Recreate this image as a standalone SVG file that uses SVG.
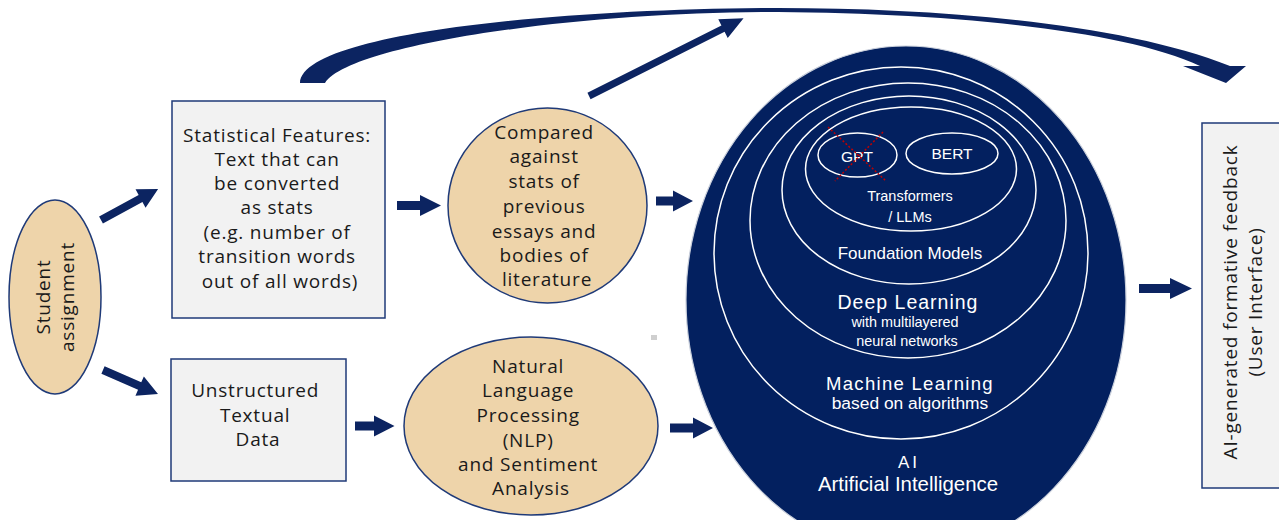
<svg xmlns="http://www.w3.org/2000/svg" width="1279" height="520" viewBox="0 0 1279 520">
<style>
.box{fill:#f2f2f2;stroke:#1f3a78;stroke-width:1.5}
.tan{fill:#eed4aa;stroke:#1f3a78;stroke-width:1.5}
.t{font-family:"Open Sans","Noto Sans",sans-serif;font-size:19px;fill:#1a1a1a;letter-spacing:0.8px;text-anchor:middle}
.w{font-family:"Liberation Sans",Arial,sans-serif;fill:#ffffff;text-anchor:middle}
.ring{fill:none;stroke:#ffffff;stroke-width:1.5}
.arr{fill:#0c2461}
.x{stroke:#c00000;stroke-width:1.5;stroke-dasharray:2 2}
</style>
<rect width="1279" height="520" fill="#ffffff"/>

<g id="connectors">
  <path class="arr" d="M300,83 C302,35 540,10 762,8 C930,7 1120,22 1230,66 L1246,66 L1226,83 L1183,66 L1200,66 C1120,28 930,12 762,12 C570,13 350,45 325,83 Z"/>
  <polygon class="arr" points="0,-3.5 150,-3.5 150,-10.5 173,0 150,10.5 150,3.5 0,3.5" transform="translate(589,96) rotate(-26.7)"/>
  <polygon class="arr" points="0,-4 45,-4 45,-10.5 65,0 45,10.5 45,4 0,4" transform="translate(101,220) rotate(-28.5)"/>
  <polygon class="arr" points="0,-4 40,-4 40,-10.5 60,0 40,10.5 40,4 0,4" transform="translate(103,370) rotate(23.6)"/>
  <polygon class="arr" points="397,201 420,201 420,195 441,205.5 420,216 420,210 397,210"/>
  <polygon class="arr" points="656,196.5 673,196.5 673,190.5 693,201 673,211.5 673,205.5 656,205.5"/>
  <polygon class="arr" points="355,421.5 374,421.5 374,415.5 394.5,426 374,436.5 374,430.5 355,430.5"/>
  <polygon class="arr" points="670,423.5 693,423.5 693,417.5 713,428 693,438.5 693,432.5 670,432.5"/>
  <polygon class="arr" points="1139,284 1170,284 1170,278 1192,288.5 1170,299 1170,293 1139,293"/>
</g>

<g id="student">
  <ellipse class="tan" cx="55" cy="297" rx="46" ry="97"/>
  <text class="t" font-size="18" transform="translate(55,297) rotate(-90)"><tspan x="0" y="-5.5">Student</tspan><tspan x="0" y="18.5">assignment</tspan></text>
</g>

<g id="statistical">
  <rect class="box" x="172" y="101" width="213" height="217"/>
  <text class="t">
    <tspan x="280" y="142">Statistical Features:</tspan>
    <tspan x="280" y="166">Text that can</tspan>
    <tspan x="280" y="190">be converted</tspan>
    <tspan x="280" y="214">as stats</tspan>
    <tspan x="280" y="239">(e.g. number of</tspan>
    <tspan x="280" y="263">transition words</tspan>
    <tspan x="280" y="288">out of all words)</tspan>
  </text>
</g>

<g id="unstructured">
  <rect class="box" x="171" y="359" width="175" height="122"/>
  <text class="t">
    <tspan x="258" y="397">Unstructured</tspan>
    <tspan x="258" y="422">Textual</tspan>
    <tspan x="258" y="446">Data</tspan>
  </text>
</g>

<g id="compared">
  <ellipse class="tan" cx="547.5" cy="205.5" rx="99.5" ry="97.5"/>
  <text class="t">
    <tspan x="547" y="139">Compared</tspan>
    <tspan x="547" y="163">against</tspan>
    <tspan x="547" y="188">stats of</tspan>
    <tspan x="547" y="213">previous</tspan>
    <tspan x="547" y="238">essays and</tspan>
    <tspan x="547" y="262">bodies of</tspan>
    <tspan x="547" y="286">literature</tspan>
  </text>
</g>

<g id="nlp">
  <ellipse class="tan" cx="531" cy="426" rx="127" ry="89"/>
  <text class="t">
    <tspan x="531" y="373">Natural</tspan>
    <tspan x="531" y="397">Language</tspan>
    <tspan x="531" y="422">Processing</tspan>
    <tspan x="531" y="447">(NLP)</tspan>
    <tspan x="531" y="471">and Sentiment</tspan>
    <tspan x="531" y="495">Analysis</tspan>
  </text>
</g>

<rect x="651" y="335" width="6" height="5" fill="#cfcfcf"/>

<g id="ai">
  <ellipse cx="906" cy="300" rx="220" ry="254" fill="#03205f" stroke="#c9cfdb" stroke-width="1.2"/>
  <text class="w" font-size="17" letter-spacing="3" x="909" y="468">AI</text>
  <text class="w" font-size="20.4" x="908" y="491">Artificial Intelligence</text>
</g>

<g id="machine-learning">
  <ellipse class="ring" stroke="#e2e2e2" cx="901" cy="253" rx="187" ry="186"/>
  <text class="w" font-size="18.5" letter-spacing="1.3" x="910" y="390">Machine Learning</text>
  <text class="w" font-size="17.4" x="910" y="409">based on algorithms</text>
</g>

<g id="deep-learning">
  <ellipse class="ring" cx="908" cy="220.5" rx="158" ry="137.5"/>
  <text class="w" font-size="19.5" letter-spacing="1" x="908" y="309">Deep Learning</text>
  <text class="w" font-size="14.4" x="905" y="327">with multilayered</text>
  <text class="w" font-size="14.4" x="907" y="346">neural networks</text>
</g>

<g id="foundation-models">
  <ellipse class="ring" cx="909" cy="190" rx="127" ry="94"/>
  <text class="w" font-size="17" x="910" y="259">Foundation Models</text>
</g>

<g id="transformers">
  <ellipse class="ring" cx="911" cy="169" rx="105.5" ry="62"/>
  <text class="w" font-size="14.5" x="910" y="201">Transformers</text>
  <text class="w" font-size="14.5" x="910" y="222">/ LLMs</text>
</g>

<g id="gpt">
  <ellipse class="ring" cx="857.5" cy="155" rx="39.5" ry="22"/>
  <text class="w" font-size="15.5" x="857" y="162">GPT</text>
  <line class="x" x1="828" y1="127" x2="886" y2="181"/>
  <line class="x" x1="883" y1="132" x2="835" y2="181"/>
</g>

<g id="bert">
  <ellipse class="ring" cx="952" cy="153.5" rx="46" ry="20.5"/>
  <text class="w" font-size="15.5" x="952" y="159">BERT</text>
</g>

<g id="feedback">
  <rect class="box" x="1202" y="123" width="90" height="365"/>
  <text class="t" font-size="19" letter-spacing="0.5" transform="translate(1245,302) rotate(-90)"><tspan x="0" y="-8">AI-generated formative feedback</tspan><tspan x="0" y="17">(User Interface)</tspan></text>
</g>
</svg>
